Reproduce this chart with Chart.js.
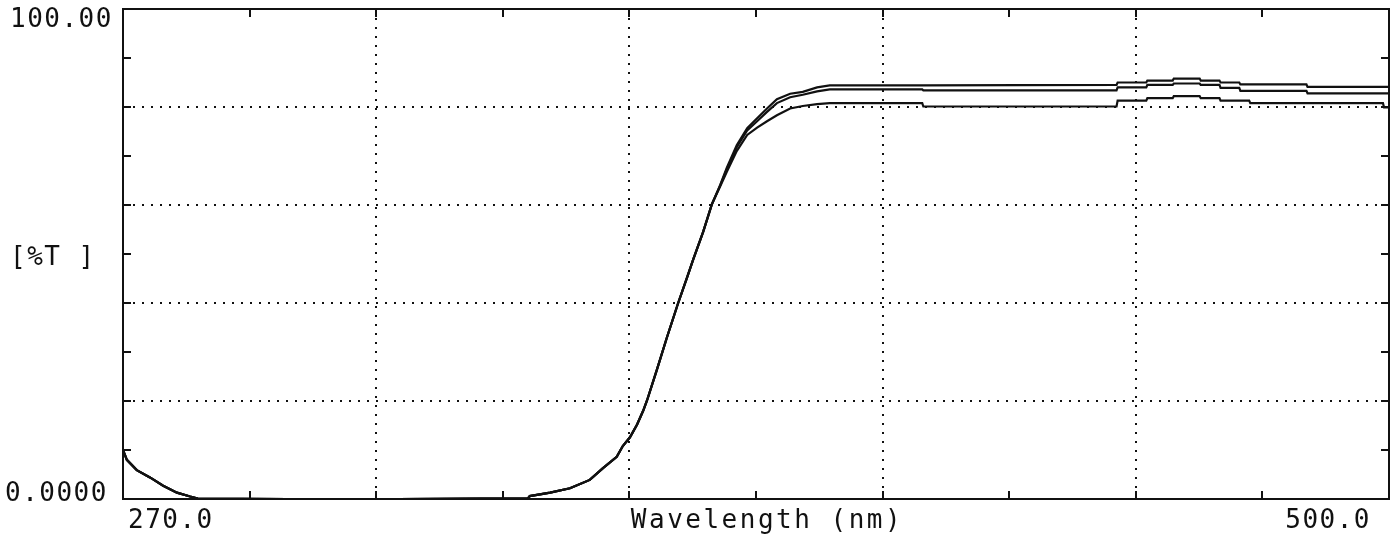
<!DOCTYPE html>
<html>
<head>
<meta charset="utf-8">
<script src="https://cdn.jsdelivr.net/npm/chart.js@4.4.0/dist/chart.umd.min.js"></script>
<style>
html,body{margin:0;padding:0;background:#fff;}
#wrap{width:1395px;height:539px;position:relative;}
</style>
</head>
<body>
<div id="wrap"><canvas id="c"></canvas></div>
<script>
// ---- data ----
const wavelengthNm = [
  270, 270.7, 272.5, 274.9, 277.3, 279.8, 282.2, 283.6, 300, 320, 335, 343.6, 343.9,
  347.6, 351.2, 354.8, 357.2, 359.7, 360.8, 362.1, 363.4, 364.5, 365.2, 367.0, 368.8,
  370.8, 372.5, 373.6, 375.4, 377.0, 378.5, 379.7, 381.5, 383.4, 385.2, 387.0, 388.8,
  391.2, 393.5, 396.1, 398.4, 415.2, 415.4, 450.5, 450.7, 455.9, 456.1, 460.7, 460.9,
  465.6, 465.8, 469.2, 469.4, 472.8, 473.0, 474.6, 474.8, 485.0, 485.2, 498.9, 499.1, 500
];
const transmittanceA = [
  10.0, 8.0, 5.9, 4.4, 2.7, 1.3, 0.5, 0.1, 0, 0, 0.1, 0.15, 0.6,
  1.3, 2.2, 3.9, 6.3, 8.6, 10.8, 12.6, 15.2, 18.0, 20.1, 26.4, 32.9,
  39.8, 45.3, 48.9, 54.5, 60.2, 64.1, 67.6, 72.2, 75.7, 77.7, 79.7, 81.6,
  82.7, 83.1, 84.0, 84.4, 84.4, 84.4, 84.5, 85.0, 85.0, 85.4, 85.4, 85.8,
  85.8, 85.4, 85.4, 85.0, 85.0, 84.6, 84.6, 84.6, 84.6, 84.1, 84.1, 84.1, 84.1
];
const transmittanceB = [
  10.0, 8.0, 5.9, 4.4, 2.7, 1.3, 0.5, 0.1, 0, 0, 0.1, 0.15, 0.6,
  1.3, 2.2, 3.9, 6.3, 8.6, 10.8, 12.6, 15.2, 18.0, 20.1, 26.4, 32.9,
  39.8, 45.3, 48.9, 54.5, 60.2, 64.0, 67.3, 71.8, 75.2, 77.1, 79.0, 80.8,
  82.0, 82.5, 83.2, 83.6, 83.6, 83.4, 83.4, 84.0, 84.0, 84.5, 84.5, 84.8,
  84.8, 84.5, 84.5, 83.9, 83.9, 83.3, 83.3, 83.3, 83.3, 82.8, 82.8, 82.8, 82.8
];
const transmittanceC = [
  10.0, 8.0, 5.9, 4.4, 2.7, 1.3, 0.5, 0.1, 0, 0, 0.1, 0.15, 0.6,
  1.3, 2.2, 3.9, 6.3, 8.6, 10.8, 12.6, 15.2, 18.0, 20.1, 26.4, 32.9,
  39.8, 45.3, 48.9, 54.5, 60.2, 63.8, 66.8, 71.0, 74.3, 75.8, 77.1, 78.3,
  79.7, 80.2, 80.6, 80.8, 80.8, 80.1, 80.1, 81.3, 81.3, 81.8, 81.8, 82.2,
  82.2, 81.8, 81.8, 81.3, 81.3, 81.3, 81.3, 80.8, 80.8, 80.8, 80.8, 79.9, 79.9
];
const xTickValues = [270, 293, 316, 339, 362, 385, 408, 431, 454, 477, 500];
const xGridValues = [316, 362, 408, 454];
const yTickValues = [0, 10, 20, 30, 40, 50, 60, 70, 80, 90, 100];
const yGridValues = [20, 40, 60, 80];
const yTopLabel = '100.00';
const yBottomLabel = '0.0000';
const yAxisTitle = '[%T ]';
const xFirstLabel = '270.0';
const xLastLabel = '500.0';
const xAxisTitle = 'Wavelength (nm)';

const INK = '#111';
const toPoints = arr => wavelengthNm.map((w, i) => ({x: w, y: arr[i]}));

function makeScale(axisId, position, min, max, tickValues, gridValues, onArea) {
  const horizontal = position === 'top' || position === 'bottom';
  return {
    type: 'linear',
    position: position,
    axis: horizontal ? 'x' : 'y',
    min: min,
    max: max,
    afterBuildTicks: s => { s.ticks = tickValues.map(v => ({value: v})); },
    afterFit: s => { if (horizontal) { s.height = 0; } else { s.width = 0; } },
    ticks: {display: false},
    grid: {
      display: true,
      drawOnChartArea: onArea,
      color: c => (c.tick && gridValues.includes(c.tick.value)) ? INK : 'rgba(0,0,0,0)',
      lineWidth: 2,
      drawTicks: true,
      tickLength: -8,
      tickColor: INK,
      tickWidth: 2
    },
    border: {display: true, color: INK, width: 2, dash: [2, 7]}
  };
}

const labelPlugin = {
  id: 'spectroLabels',
  afterDraw(chart) {
    const ctx = chart.ctx;
    const xs = chart.scales.x, ys = chart.scales.y;
    ctx.save();
    ctx.fillStyle = INK;
    ctx.font = '26px "DejaVu Sans Mono", monospace';
    try { ctx.letterSpacing = '1.5px'; } catch (e) {}
    ctx.textBaseline = 'alphabetic';
    ctx.textAlign = 'left';
    ctx.fillText(yTopLabel, 10, ys.getPixelForValue(100) + 18);
    ctx.fillText(yBottomLabel, 5, ys.getPixelForValue(0) + 2);
    ctx.fillText(yAxisTitle, 10, ys.getPixelForValue(50) + 11);
    const base = ys.getPixelForValue(0) + 29;
    ctx.fillText(xFirstLabel, xs.getPixelForValue(270) + 5, base);
    ctx.textAlign = 'right';
    ctx.fillText(xLastLabel, xs.getPixelForValue(500) - 18, base);
    try { ctx.letterSpacing = '2.5px'; } catch (e) {}
    ctx.textAlign = 'center';
    ctx.fillText(xAxisTitle, (xs.left + xs.right) / 2 + 11, base);
    ctx.restore();
  }
};

const lineStyle = {borderColor: INK, borderWidth: 2.2, pointRadius: 0, tension: 0, fill: false};

new Chart(document.getElementById('c'), {
  type: 'line',
  data: {
    datasets: [
      Object.assign({label: 'A', data: toPoints(transmittanceA)}, lineStyle),
      Object.assign({label: 'B', data: toPoints(transmittanceB)}, lineStyle),
      Object.assign({label: 'C', data: toPoints(transmittanceC)}, lineStyle)
    ]
  },
  options: {
    responsive: true,
    maintainAspectRatio: false,
    animation: false,
    layout: {padding: {left: 123, right: 6, top: 9, bottom: 40}},
    plugins: {legend: {display: false}, tooltip: {enabled: false}, title: {display: false}},
    scales: {
      x: makeScale('x', 'bottom', 270, 500, xTickValues, xGridValues, true),
      x2: makeScale('x2', 'top', 270, 500, xTickValues, xGridValues, false),
      y: makeScale('y', 'left', 0, 100, yTickValues, yGridValues, true),
      y2: makeScale('y2', 'right', 0, 100, yTickValues, yGridValues, false)
    }
  },
  plugins: [labelPlugin]
});
</script>
</body>
</html>
